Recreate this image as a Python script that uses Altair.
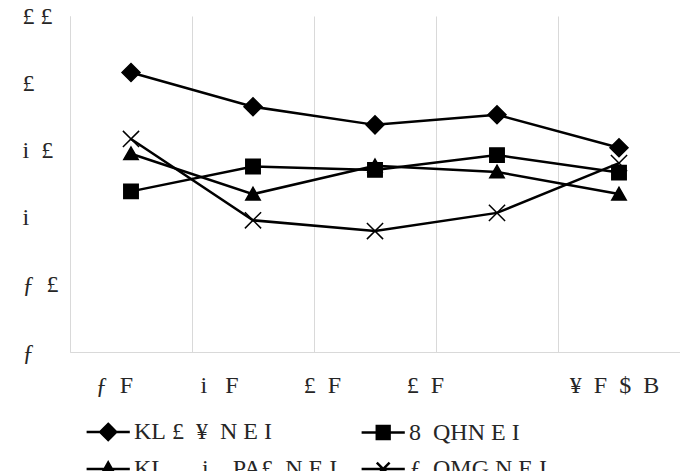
import json
import altair as alt
import pandas as pd

NB = "\u00a0"

# ---- data ----
categories = [
    "ƒ" + NB * 2 + "F",
    "i" + NB * 3 + "F",
    "£" + NB * 2 + "F",
    "£" + NB * 2 + "F",
    "¥" + NB * 2 + "F" + NB * 2 + "$" + NB * 2 + "B",
]
series_names = [
    "KL" + NB + "£" + NB * 2 + "¥" + NB * 2 + "N" + NB + "E" + NB + "I",
    "8" + NB * 2 + "QHN" + NB + "E" + NB + "I",
    "KL" + NB * 6 + "i" + NB * 4 + "PA£" + NB * 2 + "N" + NB + "E" + NB + "I",
    "ƒ" + NB * 2 + "QMG" + NB + "N" + NB + "E" + NB + "I",
]
diamond_vals = [4.16, 3.65, 3.38, 3.53, 3.04]
square_vals = [2.39, 2.76, 2.71, 2.93, 2.67]
triangle_vals = [2.95, 2.35, 2.77, 2.68, 2.35]
cross_vals = [3.17, 1.96, 1.80, 2.07, 2.81]
y_tick_values = [0, 1, 2, 3, 4, 5]
y_tick_labels = ["ƒ", "ƒ" + NB * 2 + "£", "i", "i" + NB * 2 + "£", "£", "£" + NB + "£"]

rows = []
for name, vals in zip(series_names, [diamond_vals, square_vals, triangle_vals, cross_vals]):
    for i, v in enumerate(vals):
        rows.append({"pos": i, "series": name, "value": v})
df = pd.DataFrame(rows)

FONT = "Liberation Serif"
GRID = "#d9d9d9"
TXT = "#262626"

plot_shapes = [
    "M0,-1L1,0L0,1L-1,0Z",
    "M-0.8,-0.8H0.8V0.8H-0.8Z",
    "M0,-0.75L0.8,0.65L-0.8,0.65Z",
    "M-0.9,-0.9L0.9,0.9M0.9,-0.9L-0.9,0.9",
]
legend_shapes = [
    "M-2.7,0L2.7,0M0,-1L1,0L0,1L-1,0Z",
    "M-2.7,0L2.7,0M-0.8,-0.8H0.8V0.8H-0.8Z",
    "M-2.7,0L2.7,0M0,-0.8L0.85,0.7L-0.85,0.7Z",
    "M-2.7,0L2.7,0M-0.8,-0.8L0.8,0.8M0.8,-0.8L-0.8,0.8",
]

x_labels_expr = json.dumps(categories) + "[datum.value]"
y_labels_expr = json.dumps(y_tick_labels) + "[datum.value]"

x_enc = alt.X(
    "pos:O",
    bandPosition=0.5,
    scale=alt.Scale(type="band", paddingInner=0, paddingOuter=0),
    axis=alt.Axis(
        title=None,
        labelExpr=x_labels_expr,
        labelAngle=0,
        tickBand="extent",
        grid=True,
        gridColor=GRID,
        gridWidth=1,
        ticks=False,
        tickSize=0,
        domainColor=GRID,
        labelPadding=40,
        labelBaseline="alphabetic",
        labelFont=FONT,
        labelFontSize=24,
        labelColor=TXT,
        labelOffset={"expr": "[-17,-34,-53,-72,-5][datum.value]"},
    ),
)
y_enc = alt.Y(
    "value:Q",
    scale=alt.Scale(domain=[0, 5], nice=False, zero=True),
    axis=alt.Axis(
        title=None,
        values=y_tick_values,
        labelExpr=y_labels_expr,
        grid=False,
        ticks=False,
        tickSize=0,
        domainColor=GRID,
        labelAlign="left",
        labelBaseline="middle",
        labelPadding=48,
        labelFlush=False,
        labelFont=FONT,
        labelFontSize=24,
        labelColor=TXT,
    ),
)

legend_def = alt.Legend(
    title=None,
    orient="none",
    legendX=26.2,
    legendY=404,
    columns=2,
    direction="horizontal",
    padding=0,
    symbolSize=256,
    symbolStrokeWidth=2.5,
    symbolOpacity=1,
    labelFont=FONT,
    labelFontSize=24,
    labelColor=TXT,
    labelOffset=13.8,
    columnPadding=19,
    rowPadding=12,
    labelLimit=400,
)

base = alt.Chart(df)

lines = base.mark_line(color="black", strokeWidth=2.5).encode(
    x=x_enc, y=y_enc, detail="series:N"
)
points = base.mark_point(
    filled=True, fill="black", stroke="black", strokeWidth=1.5, size=324, opacity=1
).encode(
    x=x_enc,
    y=y_enc,
    shape=alt.Shape("series:N", scale=alt.Scale(domain=series_names, range=plot_shapes), legend=None),
)
legend_marks = base.transform_filter("datum.value < -100").mark_point(
    filled=True, fill="black", stroke="black", strokeWidth=2.5, size=256, opacity=1
).encode(
    x=x_enc,
    y=y_enc,
    shape=alt.Shape(
        "series:N",
        scale=alt.Scale(domain=series_names, range=legend_shapes),
        legend=legend_def,
    ),
)

chart = (
    alt.layer(lines, points, legend_marks)
    .resolve_scale(shape="independent")
    .properties(
        width=610,
        height=336,
        autosize=alt.AutoSizeParams(type="none"),
        padding={"left": 70, "top": 16, "right": 0, "bottom": 119},
        background="white",
    )
    .configure_view(stroke=None)
)

chart.save("out.html", embed_options={"renderer": "svg", "actions": False})
